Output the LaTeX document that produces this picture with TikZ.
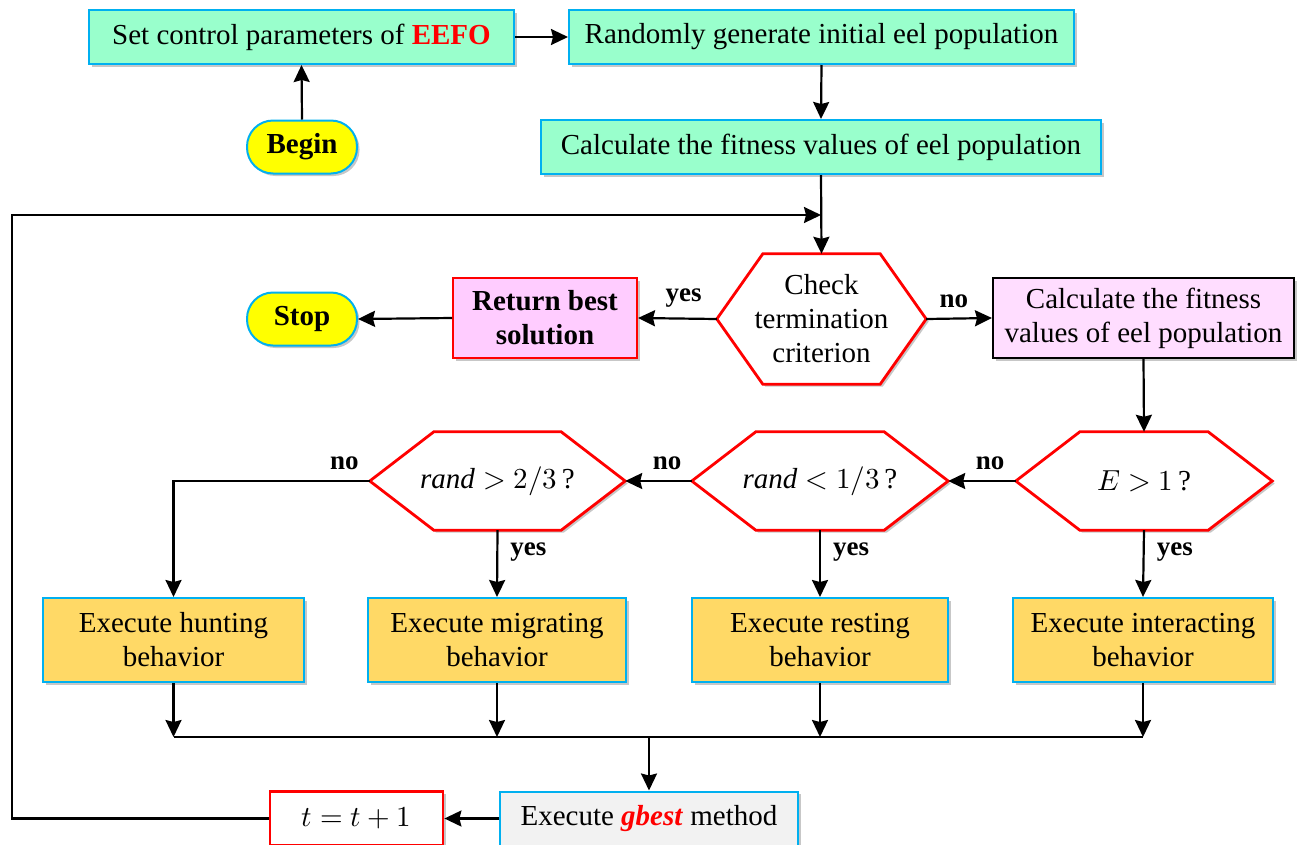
\documentclass[tikz,border=0pt]{standalone}
\usepackage{fontspec}
\usepackage{unicode-math}
\setmainfont{Liberation Serif}
\usetikzlibrary{arrows.meta,calc,shadows}
\definecolor{mint}{RGB}{153,255,204}
\definecolor{cyanb}{RGB}{0,176,240}
\definecolor{gold}{RGB}{255,217,102}
\definecolor{pinkA}{RGB}{255,204,255}
\definecolor{pinkB}{RGB}{255,221,255}
\definecolor{greyF}{RGB}{242,242,242}
\definecolor{redE}{RGB}{255,0,0}
\definecolor{yelB}{RGB}{255,255,0}
\newcommand\hexdraw[2]{\draw[hexline] (#1.west) -- ($(#1.north west)+(#2,0)$) -- ($(#1.north east)+(-#2,0)$) -- (#1.east) -- ($(#1.south east)+(-#2,0)$) -- ($(#1.south west)+(#2,0)$) -- cycle;}
\tikzset{
  shad/.style={drop shadow={opacity=0.22, shadow xshift=2.5pt, shadow yshift=-2.5pt, fill=black}},
  base/.style={font=\fontsize{29}{34}\selectfont, align=center, inner sep=0pt, line width=2pt, shad},
  mintbox/.style={base, draw=cyanb, fill=mint, minimum height=54pt},
  ovalbox/.style={base, draw=cyanb, fill=yelB, minimum width=110pt, minimum height=53pt, rounded corners=26pt, font=\bfseries\fontsize{29}{34}\selectfont},
  goldbox/.style={base, draw=cyanb, fill=gold, minimum height=84pt},
  hexnode/.style={font=\fontsize{29}{34}\selectfont, align=center, inner sep=0pt},
  hexline/.style={draw=redE, line width=2.8pt, fill=white, line join=miter, shad},
  ln/.style={line width=2.2pt, draw=black},
  arr/.style={ln, -{Stealth[length=17pt,width=16pt,inset=2pt]}},
  lab/.style={font=\bfseries\fontsize{27}{30}\selectfont, inner sep=0pt},
}
\begin{document}
\begin{tikzpicture}[x=1pt,y=-1pt]
\useasboundingbox (0,0) rectangle (1298,844);
\clip (0,0) rectangle (1298,844);
\fill[white] (0,0) rectangle (1298,844);
% nodes
\node[mintbox, minimum width=425pt] (b1) at (301.5,37) {Set control parameters of \textcolor{redE}{\textbf{EEFO}}};
\node[mintbox, minimum width=505pt] (b2) at (821.5,37) {Randomly generate initial eel population};
\node[ovalbox] (begin) at (302,147) {Begin};
\node[mintbox, minimum width=560pt] (b3) at (821,147) {Calculate the fitness values of eel population};
\coordinate (j) at (821,215);
\coordinate (lc) at (12,215);
\node[hexnode, minimum width=209pt, minimum height=130pt] (h1) at (821.5,319) {};
\hexdraw{h1}{46}
\node[hexnode] at (h1) {Check\\termination\\criterion};
\node[base, draw=redE, fill=pinkA, minimum width=184pt, minimum height=80pt, font=\bfseries\fontsize{29}{34}\selectfont] (ret) at (545,318) {Return best\\solution};
\node[ovalbox] (stop) at (302,319) {Stop};
\node[base, draw=black, fill=pinkB, minimum width=301pt, minimum height=80pt] (c2) at (1143.5,318) {Calculate the fitness\\values of eel population};
\node[hexnode, minimum width=256pt, minimum height=98pt] (h2) at (1144,481) {};
\hexdraw{h2}{64}
\node[hexnode] at (h2) {$E>1$\,?};
\node[hexnode, minimum width=256pt, minimum height=98pt] (h3) at (820,481) {};
\hexdraw{h3}{64}
\node[hexnode] at (h3) {$\mathit{rand}<1/3$\,?};
\node[hexnode, minimum width=255pt, minimum height=98pt] (h4) at (497.5,481) {};
\hexdraw{h4}{64}
\node[hexnode] at (h4) {$\mathit{rand}>2/3$\,?};
\node[goldbox, minimum width=261pt] (y1) at (173.5,640) {Execute hunting\\behavior};
\node[goldbox, minimum width=258pt] (y2) at (497,640) {Execute migrating\\behavior};
\node[goldbox, minimum width=256pt] (y3) at (820,640) {Execute resting\\behavior};
\node[goldbox, minimum width=260pt] (y4) at (1143,640) {Execute interacting\\behavior};
\coordinate (mrow) at (0,737);
\node[base, draw=cyanb, fill=greyF, minimum width=298pt, minimum height=54pt] (gb) at (649,818.5) {Execute \textcolor{redE}{\textbf{\textit{gbest}}} method};
\node[base, draw=redE, fill=white, line width=2.8pt, minimum width=173pt, minimum height=54pt] (tt) at (356.5,818.5) {$t=t+1$};
% connectors
\draw[arr] (b1.east) -- (b2.west);
\draw[arr] (begin.north) -- (b1.south);
\draw[arr] (b2.south) -- (b3.north);
\draw[arr] (b3.south) -- (h1.north);
\draw[arr] (h1.west) -- node[lab, pos=0.42, above=10pt] {yes} (ret.east);
\draw[arr] (ret.west) -- (stop.east);
\draw[arr] (h1.east) -- node[lab, pos=0.42, above=10pt] {no} (c2.west);
\draw[arr] (c2.south) -- (h2.north);
\draw[arr] (h2.west) -- node[lab, pos=0.38, above=10pt] {no} (h3.east);
\draw[arr] (h3.west) -- node[lab, pos=0.37, above=10pt] {no} (h4.east);
\draw[arr] (h4.west) -| node[lab, pos=0.065, above=10pt] {no} (y1.north);
\draw[arr] (h4.south) -- node[lab, pos=0.32, right=12pt] {yes} (y2.north);
\draw[arr] (h3.south) -- node[lab, pos=0.32, right=12pt] {yes} (y3.north);
\draw[arr] (h2.south) -- node[lab, pos=0.32, right=12pt] {yes} (y4.north);
\draw[arr] (y1.south) -- (y1.south |- mrow);
\draw[arr] (y2.south) -- (y2.south |- mrow);
\draw[arr] (y3.south) -- (y3.south |- mrow);
\draw[arr] (y4.south) -- (y4.south |- mrow);
\draw[ln] (y1.south |- mrow) -- (y4.south |- mrow);
\draw[arr] (gb.north |- mrow) -- (gb.north);
\draw[arr] (gb.west) -- (tt.east);
\draw[arr] (tt.west) -| (lc) -- (j);
\end{tikzpicture}
\end{document}
